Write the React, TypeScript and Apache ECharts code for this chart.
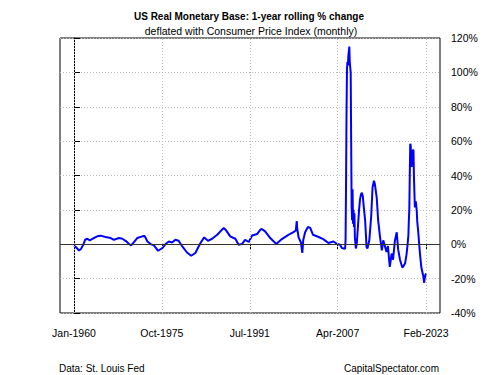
import React, { useEffect, useRef } from "react";
import * as echarts from "echarts";

const dates: string[] = [
  "1960-01","1960-05","1960-12","1961-04","1961-09","1962-01","1962-06","1962-11","1963-05","1964-03",
  "1964-10","1965-09","1966-08","1967-03","1968-02","1968-09","1969-04","1969-11","1970-04","1970-10",
  "1971-05","1972-04","1972-09","1973-03","1973-10","1974-05","1975-02","1975-11","1976-06","1977-01",
  "1977-08","1978-03","1978-10","1979-06","1980-04","1981-01","1981-10","1982-09","1983-05","1984-01",
  "1984-10","1985-09","1986-11","1987-03","1988-01","1988-12","1989-07","1990-02","1990-09","1991-05",
  "1991-12","1992-11","1993-06","1993-09","1994-04","1995-03","1996-04","1997-04","1998-06","1999-05",
  "1999-10","1999-12","2000-01","2000-04","2000-09","2000-12","2001-02","2001-06","2001-12","2002-05",
  "2002-11","2003-11","2004-09","2005-08","2006-07","2007-02","2007-09","2008-01","2008-08","2008-09",
  "2008-10","2008-11","2008-12","2009-01","2009-02","2009-03","2009-04","2009-05","2009-06","2009-07",
  "2009-08","2009-09","2009-10","2009-11","2009-12","2010-01","2010-02","2010-03","2010-04","2010-05",
  "2010-06","2010-07","2010-09","2010-11","2011-02","2011-04","2011-06","2011-08","2011-10","2011-12",
  "2012-03","2012-05","2012-06","2012-08","2012-12","2013-04","2013-07","2013-10","2013-12","2014-04",
  "2014-07","2014-11","2015-03","2015-06","2015-10","2016-01","2016-04","2016-08","2016-12","2017-03",
  "2017-07","2017-11","2018-02","2018-06","2018-11","2019-01","2019-05","2019-08","2019-10","2019-12",
  "2020-01","2020-02","2020-03","2020-04","2020-05","2020-06","2020-07","2020-08","2020-09","2020-10",
  "2020-11","2020-12","2021-01","2021-02","2021-03","2021-04","2021-06","2021-07","2021-09","2022-01",
  "2022-04","2022-08","2022-10","2022-11","2023-01","2023-02"
];

const values: number[] = [
  -0.7,-1.6,-3.6,-2.8,-0.3,2.6,3.2,2.2,3.2,4.6,
  5.0,4.2,3.6,2.6,3.6,3.2,2.0,0.3,-0.7,1.3,
  3.6,4.6,4.8,1.6,0.1,-0.7,-3.8,-2.2,0.1,1.6,
  1.0,2.6,2.0,-1.3,-4.8,-6.7,-5.1,0.7,4.0,2.0,
  3.2,5.5,9.5,8.5,4.6,3.2,-0.3,0.1,2.6,1.3,
  5.1,6.0,8.5,8.9,7.5,3.6,0.1,3.0,5.5,7.1,
  8.0,13.5,9.0,4.0,1.0,-5.0,2.5,7.0,10.0,9.5,
  5.5,4.2,3.0,0.7,1.6,0.3,-0.3,-2.2,-2.6,3,
  35,75,102,106,104,110,112,115,106,103,
  100,60,22,14,32,12,20,10,18,4,
  1,-2.5,0,8,20,26,29,30,28,22,
  14,4,-1.6,-2.5,2.3,16,33,37,35,27,
  14,4.3,-3.5,2.3,-1.6,-4.5,-1,-13.2,-5.4,-9,
  2,7,-3,-9,-13.5,-13,-11,-6,-1,5,
  14,20,40,58.5,57.5,50,45,52.6,54,55,
  54.6,39,30,21.4,24.3,25,19.5,13.6,7.8,-5.8,
  -13.7,-18.5,-22.4,-20,-17.5,-17
];

const xTickLabels: string[] = ["Jan-1960", "Oct-1975", "Jul-1991", "Apr-2007", "Feb-2023"];
const yTicks: number[] = [-40, -20, 0, 20, 40, 60, 80, 100, 120];

const MONTHS = ["Jan","Feb","Mar","Apr","May","Jun","Jul","Aug","Sep","Oct","Nov","Dec"];
const monthIndexFromDate = (d: string) => {
  const [y, m] = d.split("-").map(Number);
  return (y - 1960) * 12 + (m - 1);
};
const monthIndexFromLabel = (l: string) => {
  const [mon, y] = l.split("-");
  return (Number(y) - 1960) * 12 + MONTHS.indexOf(mon);
};

const FONT = "'Liberation Sans', Arial, Helvetica, sans-serif";

export default function App() {
  const ref = useRef<HTMLDivElement>(null);
  useEffect(() => {
    if (!ref.current) return;
    const chart = echarts.init(ref.current, null, { renderer: "svg" });
    const tickPos = xTickLabels.map(monthIndexFromLabel);
    const labelMap: Record<number, string> = {};
    tickPos.forEach((p, i) => (labelMap[p] = xTickLabels[i]));
    const first = monthIndexFromDate(dates[0]);
    const last = monthIndexFromDate(dates[dates.length - 1]);
    const pad = Math.round((last - first) * 0.04);
    const data = dates.map((d, i) => [monthIndexFromDate(d), values[i]]);

    chart.setOption({
      animation: false,
      textStyle: { fontFamily: FONT },
      grid: {
        left: 60, right: 60, top: 38, bottom: 62,
        show: true, borderColor: "#000", borderWidth: 1, backgroundColor: "#fff",
      },
      xAxis: {
        type: "value",
        min: first - pad,
        max: last + pad,
        axisLine: { show: false },
        splitLine: { show: false },
        axisTick: { show: true, customValues: tickPos, length: 5, lineStyle: { color: "#000" } },
        axisLabel: {
          customValues: tickPos,
          formatter: (v: number) => labelMap[v] ?? "",
          color: "#000", fontSize: 10.5, fontFamily: FONT, margin: 14,
        },
      },
      yAxis: {
        type: "value",
        position: "right",
        min: yTicks[0],
        max: yTicks[yTicks.length - 1],
        interval: 20,
        axisLine: { show: true, lineStyle: { color: "#000" } },
        axisTick: { show: true, length: 6, lineStyle: { color: "#000" } },
        axisLabel: {
          formatter: (v: number) => v + "%",
          color: "#000", fontSize: 10.5, fontFamily: FONT, margin: 11,
        },
        splitLine: { show: true, lineStyle: { color: "#bdbdbd", type: [1, 2], width: 1 } },
      },
      series: [
        {
          type: "line",
          data: [],
          z: 1,
          silent: true,
          markLine: {
            silent: true,
            symbol: ["none", "none"],
            label: { show: false },
            lineStyle: { color: "#bdbdbd", type: [1, 2], width: 1 },
            data: [
              ...tickPos.map((p) => ({ xAxis: p })),
              { yAxis: 0, lineStyle: { color: "#333", type: "solid", width: 1.2 } },
            ],
          },
        },
        {
          type: "line",
          data,
          z: 3,
          showSymbol: false,
          symbol: "none",
          lineStyle: { color: "#0000ff", width: 2 },
        },
      ],
      graphic: [
        {
          type: "text", x: 249, y: 16,
          style: {
            text: "US Real Monetary Base: 1-year rolling % change",
            font: `bold 10px ${FONT}`, fill: "#000", align: "center", verticalAlign: "middle",
          },
        },
        {
          type: "text", x: 251, y: 31,
          style: {
            text: "deflated with Consumer Price Index (monthly)",
            font: `10.5px ${FONT}`, fill: "#000", align: "center", verticalAlign: "middle",
          },
        },
        {
          type: "text", x: 59, y: 368,
          style: {
            text: "Data: St. Louis Fed",
            font: `10px ${FONT}`, fill: "#000", align: "left", verticalAlign: "middle",
          },
        },
        {
          type: "text", x: 439, y: 368,
          style: {
            text: "CapitalSpectator.com",
            font: `10px ${FONT}`, fill: "#000", align: "right", verticalAlign: "middle",
          },
        },
      ],
    });
    return () => chart.dispose();
  }, []);
  return (
    <div
      ref={ref}
      style={{ position: "absolute", left: 0, top: 0, width: 500, height: 375, background: "#fff" }}
    />
  );
}
